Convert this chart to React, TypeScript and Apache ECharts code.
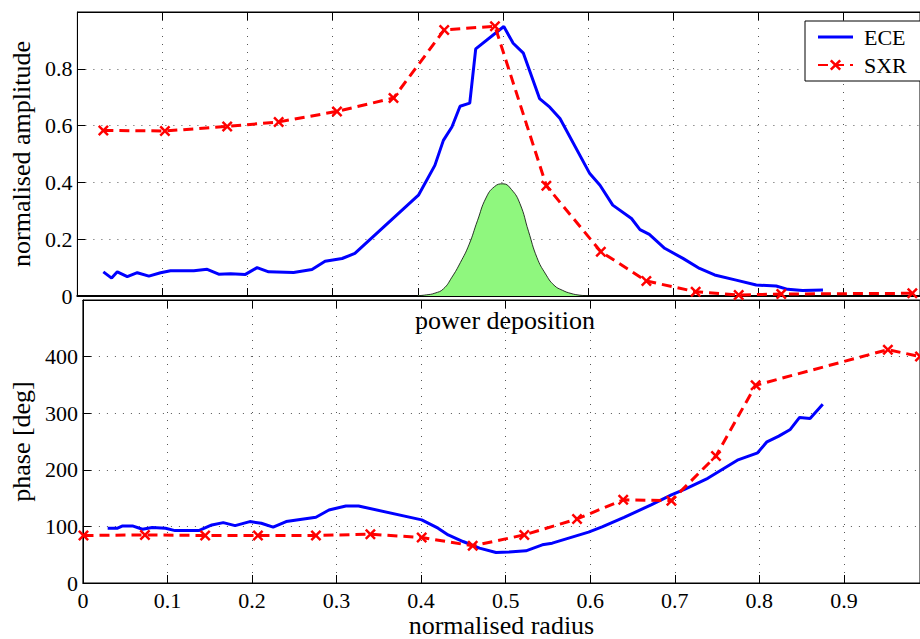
import React, { useEffect, useRef } from "react";
import * as echarts from "echarts";

const FONT = "Liberation Serif";

// Top panel: normalised amplitude
const ampEceX = [0.0305, 0.0402, 0.0469, 0.0586, 0.0704, 0.084, 0.0977, 0.1094, 0.1368, 0.1525, 0.166, 0.18, 0.1974, 0.2111, 0.2247, 0.254, 0.2756, 0.291, 0.311, 0.326, 0.4007, 0.42, 0.43, 0.44, 0.4496, 0.461, 0.468, 0.501, 0.512, 0.524, 0.543, 0.555, 0.567, 0.602, 0.614, 0.629, 0.651, 0.661, 0.672, 0.69, 0.7115, 0.731, 0.7487, 0.774, 0.7976, 0.821, 0.8346, 0.852, 0.876];
const ampEceY = [0.085, 0.063, 0.085, 0.068, 0.082, 0.07, 0.082, 0.089, 0.089, 0.094, 0.077, 0.078, 0.076, 0.1, 0.085, 0.083, 0.093, 0.122, 0.132, 0.15, 0.355, 0.46, 0.548, 0.595, 0.668, 0.679, 0.87, 0.949, 0.89, 0.855, 0.695, 0.665, 0.625, 0.431, 0.39, 0.32, 0.273, 0.234, 0.217, 0.168, 0.1325, 0.097, 0.074, 0.056, 0.0387, 0.035, 0.0235, 0.019, 0.021];
const ampSxrX = [0.0305, 0.1028, 0.176, 0.2365, 0.305, 0.3714, 0.431, 0.4906, 0.551, 0.615, 0.6685, 0.7264, 0.777, 0.827, 0.981];
const ampSxrY = [0.583, 0.581, 0.597, 0.613, 0.65, 0.697, 0.937, 0.95, 0.388, 0.156, 0.053, 0.015, 0.0035, 0.007, 0.0095];

// Power deposition profile
const pdX = [0.4, 0.41, 0.42, 0.43, 0.44, 0.45, 0.46, 0.47, 0.48, 0.49, 0.5, 0.51, 0.52, 0.53, 0.54, 0.55, 0.56, 0.57, 0.58, 0.59, 0.6];
const pdY = [0.001, 0.004, 0.01, 0.025, 0.066, 0.118, 0.18, 0.265, 0.345, 0.385, 0.395, 0.375, 0.325, 0.228, 0.135, 0.078, 0.038, 0.02, 0.009, 0.003, 0.001];

// Bottom panel: phase [deg]
const phEceX = [0.0293, 0.041, 0.047, 0.0586, 0.0704, 0.082, 0.0977, 0.109, 0.137, 0.1525, 0.166, 0.18, 0.1974, 0.211, 0.225, 0.2404, 0.2756, 0.291, 0.311, 0.326, 0.4007, 0.42, 0.432, 0.4496, 0.469, 0.4886, 0.504, 0.524, 0.5433, 0.555, 0.598, 0.614, 0.64, 0.672, 0.696, 0.7115, 0.739, 0.774, 0.798, 0.809, 0.823, 0.8366, 0.8476, 0.86, 0.875];
const phEceY = [96.8, 96.8, 100.9, 100.9, 95, 97.9, 96.8, 92.6, 92.6, 102.6, 106.7, 101.4, 108.5, 105.6, 98.6, 108.5, 116.2, 129, 136, 136, 111.5, 96.8, 85, 73.3, 61.6, 53.9, 54.6, 56.9, 67.4, 70.4, 90, 99, 116, 138, 155.6, 165.6, 185, 217, 230, 249.5, 259.5, 271.3, 292.5, 290.7, 316];
const phSxrX = [0.0007, 0.0734, 0.1446, 0.207, 0.2756, 0.34, 0.4007, 0.461, 0.522, 0.5844, 0.639, 0.696, 0.7487, 0.7956, 0.952, 0.99];
const phSxrY = [83.9, 85, 83.9, 83.9, 83.9, 86.3, 80.3, 65.7, 85, 113.2, 147, 145.5, 224.3, 349.4, 412.3, 400];

const X_MAX = 0.99;
const AMP_MAX = 1;
const PHASE_MAX = 500;

const zip = (xs: number[], ys: number[]) => xs.map((x, i) => [x, ys[i]]);

const XMARK =
  "path://M0,1.6 L1.6,0 L5,3.4 L8.4,0 L10,1.6 L6.6,5 L10,8.4 L8.4,10 L5,6.6 L1.6,10 L0,8.4 L3.4,5 Z";
const LINE_ICON = "path://M0,0 L35,0 L35,3 L0,3 Z";

export default function App() {
  const ref = useRef<HTMLDivElement>(null);
  useEffect(() => {
    if (!ref.current) return;
    const chart = echarts.init(ref.current, null, { renderer: "svg" });
    const gridLine = { show: true, lineStyle: { type: [1, 7] as any, color: "#555", width: 1 } };
    const tick = { show: true, inside: true, length: 8, lineStyle: { color: "#000", width: 1 } };
    const xBase = { type: "value" as const, min: 0, max: X_MAX, interval: 0.1 };
    const blue = "#0000ff";
    const red = "#ff0000";
    const tickFont = { fontFamily: FONT, fontSize: 22, color: "#000" };
    const nameFont = { fontFamily: FONT, fontSize: 26, color: "#000" };
    chart.setOption({
      animation: false,
      backgroundColor: "#fff",
      textStyle: { fontFamily: FONT, color: "#000" },
      grid: [
        { left: 77, top: 12, width: 844, height: 284, show: true, borderColor: "#000", borderWidth: 1, backgroundColor: "transparent" },
        { left: 77, top: 300, width: 844, height: 284, show: true, borderColor: "#000", borderWidth: 1, backgroundColor: "transparent" },
      ],
      legend: {
        data: [{ name: "ECE", icon: LINE_ICON }, { name: "SXR" }],
        orient: "vertical",
        left: 805,
        top: 21,
        padding: [5, 14, 5, 12],
        itemWidth: 35,
        itemHeight: 14,
        itemGap: 6,
        backgroundColor: "#fff",
        borderColor: "#000",
        borderWidth: 1,
        borderRadius: 0,
        selectedMode: false,
        textStyle: { fontFamily: FONT, fontSize: 22, color: "#000", padding: [0, 0, 0, 6] },
      },
      xAxis: [
        {
          ...xBase, gridIndex: 0, position: "bottom",
          axisLine: { show: true, onZero: false, lineStyle: { color: "#000", width: 2.2 } },
          axisTick: tick, axisLabel: { show: false }, splitLine: gridLine,
        },
        {
          ...xBase, gridIndex: 0, position: "top",
          axisLine: { show: true, onZero: false, lineStyle: { color: "#000", width: 1 } },
          axisTick: tick, axisLabel: { show: false }, splitLine: { show: false },
        },
        {
          ...xBase, gridIndex: 1, position: "bottom",
          name: "normalised radius", nameLocation: "middle", nameGap: 29,
          nameTextStyle: nameFont,
          axisLine: { show: true, onZero: false, lineStyle: { color: "#000", width: 1 } },
          axisTick: tick,
          axisLabel: { show: true, ...tickFont, margin: 6, showMaxLabel: false },
          splitLine: gridLine,
        },
        {
          ...xBase, gridIndex: 1, position: "top",
          axisLine: { show: true, onZero: false, lineStyle: { color: "#000", width: 1 } },
          axisTick: tick, axisLabel: { show: false }, splitLine: { show: false },
        },
      ],
      yAxis: [
        {
          type: "value", gridIndex: 0, min: 0, max: AMP_MAX, interval: 0.2,
          name: "normalised amplitude", nameLocation: "middle", nameGap: 32,
          nameTextStyle: nameFont,
          axisLine: { show: true, onZero: false, lineStyle: { color: "#000", width: 1 } },
          axisTick: tick,
          axisLabel: { ...tickFont, margin: 5, showMaxLabel: false },
          splitLine: gridLine,
        },
        {
          type: "value", gridIndex: 1, min: 0, max: PHASE_MAX, interval: 100,
          name: "phase [deg]", nameLocation: "middle", nameGap: 43,
          nameTextStyle: nameFont,
          axisLine: { show: true, onZero: false, lineStyle: { color: "#000", width: 1 } },
          axisTick: tick,
          axisLabel: { ...tickFont, margin: 5, showMaxLabel: false },
          splitLine: gridLine,
        },
      ],
      graphic: [
        {
          type: "text", x: 505, y: 320, z: 10,
          style: { text: "power deposition", fontFamily: FONT, fontSize: 26, fill: "#000", align: "center", verticalAlign: "middle" },
        },
      ],
      series: [
        {
          name: "power deposition", type: "line", xAxisIndex: 0, yAxisIndex: 0,
          data: zip(pdX, pdY), smooth: true, symbol: "none",
          lineStyle: { color: "#000", width: 0.8 },
          areaStyle: { color: "#8ff77e", opacity: 1 },
          z: 1,
        },
        {
          name: "ECE", type: "line", xAxisIndex: 0, yAxisIndex: 0,
          data: zip(ampEceX, ampEceY), symbol: "none",
          lineStyle: { color: blue, width: 3 }, itemStyle: { color: blue }, z: 3,
        },
        {
          name: "SXR", type: "line", xAxisIndex: 0, yAxisIndex: 0,
          data: zip(ampSxrX, ampSxrY), symbol: XMARK, symbolSize: 11, showSymbol: true,
          lineStyle: { color: red, width: 3, type: [10, 6] }, itemStyle: { color: red }, z: 4,
        },
        {
          name: "ECE", type: "line", xAxisIndex: 2, yAxisIndex: 1,
          data: zip(phEceX, phEceY), symbol: "none",
          lineStyle: { color: blue, width: 3 }, itemStyle: { color: blue }, z: 3,
        },
        {
          name: "SXR", type: "line", xAxisIndex: 2, yAxisIndex: 1,
          data: zip(phSxrX, phSxrY), symbol: XMARK, symbolSize: 11, showSymbol: true,
          lineStyle: { color: red, width: 3, type: [10, 6] }, itemStyle: { color: red }, z: 4,
        },
      ],
    });
    return () => chart.dispose();
  }, []);
  return (
    <div
      ref={ref}
      style={{ position: "fixed", left: 0, top: 0, width: 920, height: 639, background: "#fff" }}
    />
  );
}
